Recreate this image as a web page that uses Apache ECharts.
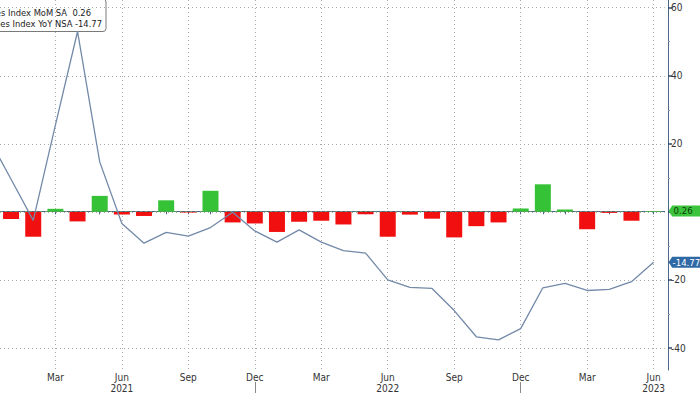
<!DOCTYPE html>
<html><head><meta charset="utf-8">
<script src="https://cdn.jsdelivr.net/npm/echarts@6/dist/echarts.min.js"></script>
<style>html,body{margin:0;padding:0;background:#fff}#c{width:700px;height:394px}</style>
</head><body><div id="c"></div>
<script>
// ---- data ----
const categories = [
  'Dec 2020',
  'Jan 2021','Feb 2021','Mar 2021','Apr 2021','May 2021','Jun 2021','Jul 2021','Aug 2021','Sep 2021','Oct 2021','Nov 2021','Dec 2021',
  'Jan 2022','Feb 2022','Mar 2022','Apr 2022','May 2022','Jun 2022','Jul 2022','Aug 2022','Sep 2022','Oct 2022','Nov 2022','Dec 2022',
  'Jan 2023','Feb 2023','Mar 2023','Apr 2023','May 2023','Jun 2023'
];
const momName = 'Pending Home Sales Index MoM SA';
const yoyName = 'Pending Home Sales Index YoY NSA';
const momSA = [
  null,
  -2.1, -7.3, 0.9, -2.8, 4.7, -0.8, -1.2, 3.4, -0.2, 6.2, -3.1, -3.4,
  -5.9, -2.9, -2.6, -3.7, -0.7, -7.3, -0.8, -2.0, -7.5, -4.2, -3.1, 1.0,
  8.1, 0.7, -5.1, -0.3, -2.6, 0.26
];
const yoyNSA = [
  21.5,
  9.6, -2.5, 25.5, 53.0, 14.7, -3.4, -9.2, -6.0, -7.1, -4.6, -0.1, -5.6,
  -8.9, -5.3, -8.9, -11.4, -12.1, -20.0, -22.2, -22.5, -29.0, -36.7, -37.6, -34.3,
  -22.3, -21.0, -23.1, -22.8, -20.5, -14.77
];
const tickMonths = ['Mar', 'Jun', 'Sep', 'Dec'];
const yearLabelMonth = 'Jun';
const yearSeparatorMonth = 'Dec';
const yMin = -40, yMax = 60, yInterval = 20;

// ---- chart ----
const FONT = '"DejaVu Sans Condensed", "Liberation Sans Narrow", sans-serif';
const AXIS_COLOR = '#4d6788';
const GRID_COLOR = '#a8a8a8';
const chart = echarts.init(document.getElementById('c'), null, { renderer: 'svg' });
const lastIdx = categories.length - 1;
const firstShown = 1;
const isTickMonth = (v) => tickMonths.indexOf(String(v).split(' ')[0]) >= 0;

chart.setOption({
  animation: false,
  backgroundColor: '#fff',
  grid: [
    { left: 0, right: 35.3, top: 0, bottom: 23, containLabel: false },
    { left: 0, right: 35.3, top: 7.7, bottom: 46, containLabel: false }
  ],
  xAxis: [
    {
      type: 'category', gridIndex: 0, data: categories, position: 'bottom', min: firstShown, max: lastIdx,
      axisLine: { show: true, lineStyle: { color: AXIS_COLOR, width: 1 } },
      axisTick: { show: true, interval: 0, alignWithLabel: true, length: 3, lineStyle: { color: AXIS_COLOR } },
      axisLabel: {
        interval: (i, v) => isTickMonth(v), margin: 2,
        color: '#333', fontSize: 10, lineHeight: 11, fontFamily: FONT,
        formatter: (v) => { const [m, y] = v.split(' '); return m === yearLabelMonth ? m + '\n' + y : m; }
      },
      splitLine: { show: true, interval: (i, v) => isTickMonth(v), alignWithLabel: true, lineStyle: { color: GRID_COLOR, type: [1, 3], width: 1 } }
    },
    {
      type: 'category', gridIndex: 1, data: categories, show: false, min: firstShown, max: lastIdx
    },
    {
      type: 'category', gridIndex: 0, data: categories, position: 'bottom', offset: 12, min: firstShown, max: lastIdx,
      axisLine: { show: false },
      axisTick: { show: true, alignWithLabel: true, length: 11, interval: (i, v) => String(v).startsWith(yearSeparatorMonth), lineStyle: { color: '#888' } },
      axisLabel: { show: false },
      splitLine: { show: false }
    }
  ],
  yAxis: [
    {
      type: 'value', gridIndex: 0, position: 'right', offset: 3.3,
      min: -46.75, max: 62.26,
      axisLine: { show: true, lineStyle: { color: AXIS_COLOR, width: 1 } },
      axisTick: { show: false }, axisLabel: { show: false }, splitLine: { show: false }
    },
    {
      type: 'value', gridIndex: 1, position: 'right', offset: 3.3,
      min: yMin, max: yMax, interval: yInterval,
      axisLine: { show: false },
      axisTick: { show: true, length: 4, lineStyle: { color: '#2b4a70', width: 1.5 } },
      minorTick: { show: true, splitNumber: 2, length: 2, lineStyle: { color: '#999' } },
      axisLabel: { color: '#333', fontSize: 10, fontFamily: FONT, margin: 3,
        formatter: (v) => v === 0 ? '' : String(v) },
      splitLine: { show: true, lineStyle: { color: GRID_COLOR, type: [1, 3], width: 1 } }
    }
  ],
  graphic: [
    {
      type: 'group', z: 100, children: [
        { type: 'rect', shape: { x: -150, y: -1, width: 256, height: 32.5, r: 3 },
          style: { fill: '#fff', stroke: '#7a7a7a', lineWidth: 1 } },
        { type: 'text', style: { text: momName + '  ' + momSA[lastIdx].toFixed(2), x: 91, y: 12.5,
            align: 'right', verticalAlign: 'middle', fontSize: 9.3, fontFamily: FONT, fill: '#1a1a1a' } },
        { type: 'text', style: { text: yoyName + ' ' + yoyNSA[lastIdx].toFixed(2), x: 102, y: 23.5,
            align: 'right', verticalAlign: 'middle', fontSize: 9.3, fontFamily: FONT, fill: '#1a1a1a' } }
      ]
    }
  ],
  series: [
    {
      name: momName, type: 'bar', xAxisIndex: 1, yAxisIndex: 1,
      data: momSA, barWidth: 16,
      itemStyle: { color: (p) => p.value >= 0 ? '#36c236' : '#f20f0f' },
      markLine: {
        silent: true, symbol: 'none', label: { show: false },
        lineStyle: { color: '#6a9a6a', type: [2, 3], width: 1 },
        data: [{ yAxis: momSA[lastIdx] }]
      },
      markPoint: {
        silent: true,
        data: [{
          coord: [categories[lastIdx], momSA[lastIdx]],
          symbol: 'path://M0,5 L4,0 L40,0 L40,10 L4,10 Z', symbolKeepAspect: false,
          symbolSize: [36, 11], symbolOffset: [33, 0],
          itemStyle: { color: '#3cc43c' },
          label: { show: true, position: 'insideLeft', distance: 5, formatter: momSA[lastIdx].toFixed(2),
            color: '#0e3d0e', fontSize: 9.5, fontFamily: FONT }
        }]
      },
      z: 3
    },
    {
      name: yoyName, type: 'line', xAxisIndex: 1, yAxisIndex: 1,
      data: yoyNSA, symbol: 'none',
      lineStyle: { color: '#7389a8', width: 1.3 },
      markPoint: {
        silent: true,
        data: [{
          coord: [categories[lastIdx], yoyNSA[lastIdx]],
          symbol: 'path://M0,5 L4,0 L40,0 L40,10 L4,10 Z', symbolKeepAspect: false,
          symbolSize: [36, 11], symbolOffset: [33, 0],
          itemStyle: { color: '#2f69a5' },
          label: { show: true, position: 'insideLeft', distance: 4, formatter: yoyNSA[lastIdx].toFixed(2),
            color: '#fff', fontSize: 9.5, fontFamily: FONT }
        }]
      },
      z: 4
    }
  ]
});
</script>
</body></html>
